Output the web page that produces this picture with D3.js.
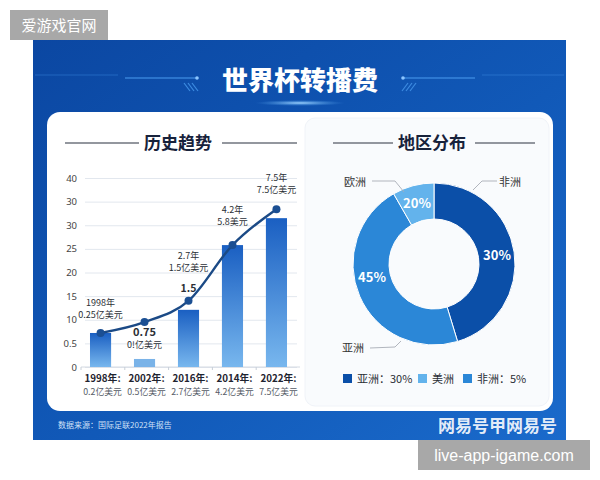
<!DOCTYPE html>
<html>
<head>
<meta charset="utf-8">
<script src="https://cdn.jsdelivr.net/npm/d3@7"></script>
<style>
  body { margin:0; background:#fff; }
  svg { display:block; font-family:"Noto Sans CJK SC","Noto Sans",sans-serif; }
</style>
</head>
<body>
<svg id="chart" width="600" height="480"></svg>
<script>
// history chart
var years      = ["1998年:", "2002年:", "2016年:", "2014年:", "2022年:"];
var yearSub    = ["0.2亿美元", "0.5亿美元", "2.7亿美元", "4.2亿美元", "7.5亿美元"];
var barValues  = [7.2, 1.7, 12.1, 25.8, 31.5];
var lineValues = [7.2, 9.5, 14.0, 25.8, 33.4];
var yTicks     = [0, 5, 10, 15, 20, 25, 30, 35, 40];
var yTickText  = ["0", "0.5", "10", "15", "20", "25", "30", "30", "40"];
var noteTop    = ["1998年", "0.75", "2.7年", "4.2年", "7.5年"];
var noteBottom = ["0.25亿美元", "0!亿美元", "1.5亿美元", "5.8美元", "7.5亿美元"];

// region donut
var regions      = ["非洲", "亚洲", "欧洲"];
var regionShare  = [45.3, 46.4, 8.3];
var regionLabel  = ["30%", "45%", "20%"];
var regionColors = ["#0b4fa8", "#2b87d7", "#63b3ec"];
var legendText   = ["亚洲：30%", "美洲", "非洲：5%"];
var legendColors = ["#0b4fa8", "#63b3ec", "#2b87d7"];

var svg = d3.select("#chart");
var defs = svg.append("defs");

var bg = defs.append("linearGradient").attr("id","bg").attr("x1",0).attr("y1",0).attr("x2",1).attr("y2",1);
bg.append("stop").attr("offset","0%").attr("stop-color","#0b47a2");
bg.append("stop").attr("offset","55%").attr("stop-color","#1159b8");
bg.append("stop").attr("offset","100%").attr("stop-color","#1a6acb");

var barg = defs.append("linearGradient").attr("id","barg").attr("x1",0).attr("y1",0).attr("x2",0).attr("y2",1);
barg.append("stop").attr("offset","0%").attr("stop-color","#1a5fc2");
barg.append("stop").attr("offset","100%").attr("stop-color","#78b7ee");

var glow = defs.append("radialGradient").attr("id","glow");
glow.append("stop").attr("offset","0%").attr("stop-color","#9fd4ff").attr("stop-opacity",1);
glow.append("stop").attr("offset","100%").attr("stop-color","#3f8fe0").attr("stop-opacity",0);

// watermark top-left
svg.append("rect").attr("x",10).attr("y",10).attr("width",98).attr("height",30).attr("fill","#a8a8a8");
svg.append("text").attr("x",59).attr("y",31).attr("text-anchor","middle")
  .attr("fill","#fff").attr("font-size",15).text("爱游戏官网");

// blue panel
svg.append("rect").attr("x",33).attr("y",40).attr("width",533).attr("height",400).attr("fill","url(#bg)");

// title decoration
var deco = svg.append("g").attr("stroke","#4a9cf0").attr("fill","none");
deco.append("line").attr("x1",35).attr("x2",118).attr("y1",75).attr("y2",75).attr("stroke-opacity",0.35);
deco.append("line").attr("x1",482).attr("x2",564).attr("y1",75).attr("y2",75).attr("stroke-opacity",0.35);
deco.append("line").attr("x1",125).attr("x2",197).attr("y1",78).attr("y2",78);
deco.append("line").attr("x1",403).attr("x2",475).attr("y1",78).attr("y2",78);
svg.append("circle").attr("cx",197).attr("cy",78).attr("r",1.8).attr("fill","#8cc6ff");
svg.append("circle").attr("cx",403).attr("cy",78).attr("r",1.8).attr("fill","#8cc6ff");
[0,1,2].forEach(function(i) {
  svg.append("line").attr("x1",184+i*4).attr("y1",83).attr("x2",190+i*4).attr("y2",91)
    .attr("stroke","#3c8ae0").attr("stroke-width",1.2);
  svg.append("line").attr("x1",416-i*4).attr("y1",83).attr("x2",410-i*4).attr("y2",91)
    .attr("stroke","#3c8ae0").attr("stroke-width",1.2);
});
svg.append("ellipse").attr("cx",300).attr("cy",103).attr("rx",45).attr("ry",3).attr("fill","url(#glow)");

svg.append("text").attr("x",300).attr("y",90).attr("text-anchor","middle")
  .attr("fill","#fff").attr("font-size",26).attr("font-weight",900).text("世界杯转播费");

// white card
svg.append("rect").attr("x",47).attr("y",112).attr("width",506).attr("height",299).attr("rx",13)
  .attr("fill","#fff");
svg.append("rect").attr("x",305).attr("y",118).attr("width",244).attr("height",288).attr("rx",10)
  .attr("fill","#f9fbfd").attr("stroke","#f0f3f8");

// section titles
function sectionTitle(cx, text, l1, l2, r1, r2) {
  svg.append("text").attr("x",cx).attr("y",149).attr("text-anchor","middle")
    .attr("fill","#17223b").attr("font-size",17).attr("font-weight",700).text(text);
  svg.append("line").attr("x1",l1).attr("x2",l2).attr("y1",143).attr("y2",143).attr("stroke","#6f757e").attr("stroke-width",1.4);
  svg.append("line").attr("x1",r1).attr("x2",r2).attr("y1",143).attr("y2",143).attr("stroke","#6f757e").attr("stroke-width",1.4);
}
sectionTitle(178, "历史趋势", 65, 139, 222, 297);
sectionTitle(432, "地区分布", 333, 393, 475, 535);

// ---- bar + line chart ----
var x = d3.scaleBand().domain(years).range([79, 298]).paddingInner(0.52).paddingOuter(0.25);
var y = d3.scaleLinear().domain([0, 40]).range([367, 178]);

var yAxis = svg.append("g").attr("transform","translate(85,0)")
  .call(d3.axisLeft(y).tickValues(yTicks).tickSize(-212).tickFormat(function(d,i){ return yTickText[i]; }));
yAxis.select(".domain").remove();
yAxis.selectAll(".tick line").attr("stroke","#e2e7ee");
yAxis.selectAll(".tick text").attr("x",-8).attr("fill","#444").attr("font-size",9.5)
  .attr("font-family","'Noto Sans','DejaVu Sans',sans-serif");

svg.append("line").attr("x1",81).attr("x2",300).attr("y1",y(0)).attr("y2",y(0)).attr("stroke","#d4dae2");
d3.range(0,5).forEach(function(i) {
  var bx = 81 + i * (219/5);
  svg.append("line").attr("x1",bx).attr("x2",bx).attr("y1",y(0)).attr("y2",y(0)+3).attr("stroke","#c8cfd8");
});

svg.append("g").selectAll("rect").data(barValues).join("rect")
  .attr("x", function(d,i){ return x(years[i]); })
  .attr("width", x.bandwidth())
  .attr("y", function(d){ return y(d); })
  .attr("height", function(d){ return y(0) - y(d); })
  .attr("fill", function(d,i){ return i === 1 ? "#7ab3e8" : "url(#barg)"; });

var cx = function(i){ return x(years[i]) + x.bandwidth()/2; };
var line = d3.line().x(function(d,i){ return cx(i); }).y(function(d){ return y(d); }).curve(d3.curveMonotoneX);
svg.append("path").datum(lineValues).attr("d",line).attr("fill","none")
  .attr("stroke","#1b4a86").attr("stroke-width",2.4);
svg.append("g").selectAll("circle").data(lineValues).join("circle")
  .attr("cx", function(d,i){ return cx(i); }).attr("cy", function(d){ return y(d); })
  .attr("r",4).attr("fill","#1b4f93");

// point notes
var noteDy = [-27, 14, -42, -32, -28];
var notes = svg.append("g").attr("text-anchor","middle").attr("fill","#2b2f36");
lineValues.forEach(function(v,i) {
  var ny = y(v) + noteDy[i];
  notes.append("text").attr("x",cx(i)).attr("y",ny)
    .attr("font-size", i === 1 ? 11 : 9).attr("font-weight", i === 1 ? 700 : 400).text(noteTop[i]);
  notes.append("text").attr("x",cx(i)).attr("y",ny + 12).attr("font-size",9).text(noteBottom[i]);
});
notes.append("text").attr("x",cx(2)).attr("y",y(lineValues[2]) - 9).attr("font-size",10.5)
  .attr("font-weight",700).text("1.5");

// x labels
var xl = svg.append("g").attr("text-anchor","middle");
years.forEach(function(t,i) {
  xl.append("text").attr("x",cx(i)+2).attr("y",382).attr("font-size",9.8).attr("font-weight",700)
    .attr("fill","#1f2430").text(t);
  xl.append("text").attr("x",cx(i)+2).attr("y",395).attr("font-size",8.8).attr("fill","#555b66").text(yearSub[i]);
});

// ---- donut ----
var dc = svg.append("g").attr("transform","translate(434,264)");
var pie = d3.pie().sort(null)(regionShare);
var arc = d3.arc().innerRadius(45).outerRadius(81);
dc.selectAll("path").data(pie).join("path").attr("d",arc)
  .attr("fill", function(d,i){ return regionColors[i]; }).attr("stroke","#fff").attr("stroke-width",1);

var labelPos = [[63, -9], [-62, 13], [-17, -61]];
dc.selectAll("text.pct").data(regionLabel).join("text").attr("class","pct")
  .attr("x", function(d,i){ return labelPos[i][0]; }).attr("y", function(d,i){ return labelPos[i][1] + 5; })
  .attr("text-anchor","middle").attr("fill","#fff").attr("font-size",13).attr("font-weight",700).text(function(d){ return d; });

// callouts
var callouts = [
  {t:"欧洲", tx:355, ty:186, pts:[[372,181],[395,181],[404,192]]},
  {t:"非洲", tx:510, ty:186, pts:[[497,181],[482,181],[473,190]]},
  {t:"亚洲", tx:353, ty:352, pts:[[370,348],[395,347],[401,341]]}
];
callouts.forEach(function(c) {
  svg.append("text").attr("x",c.tx).attr("y",c.ty).attr("text-anchor","middle")
    .attr("font-size",11).attr("fill","#333").text(c.t);
  svg.append("path").attr("d", d3.line()(c.pts)).attr("fill","none").attr("stroke","#a8adb5").attr("stroke-width",0.9);
});

// legend
var lx = [343, 418, 463];
legendText.forEach(function(t,i) {
  svg.append("rect").attr("x",lx[i]).attr("y",374).attr("width",9).attr("height",9).attr("fill",legendColors[i]);
  svg.append("text").attr("x",lx[i]+14).attr("y",383).attr("font-size",11).attr("fill","#2a2e35").text(t);
});

// footer
svg.append("text").attr("x",58).attr("y",428).attr("font-size",8).attr("fill","#cfe0f7").text("数据来源：国际足联2022年报告");
svg.append("text").attr("x",557).attr("y",432).attr("text-anchor","end").attr("font-size",17)
  .attr("font-weight",700).attr("fill","#fff").attr("fill-opacity",0.9).text("网易号甲网易号");

// watermark bottom-right
svg.append("rect").attr("x",418).attr("y",440).attr("width",172).attr("height",30).attr("fill","#a8a8a8");
svg.append("text").attr("x",504).attr("y",461).attr("text-anchor","middle")
  .attr("fill","#fff").attr("font-size",16).attr("font-family","'Liberation Sans',sans-serif").text("live-app-igame.com");
</script>
</body>
</html>
